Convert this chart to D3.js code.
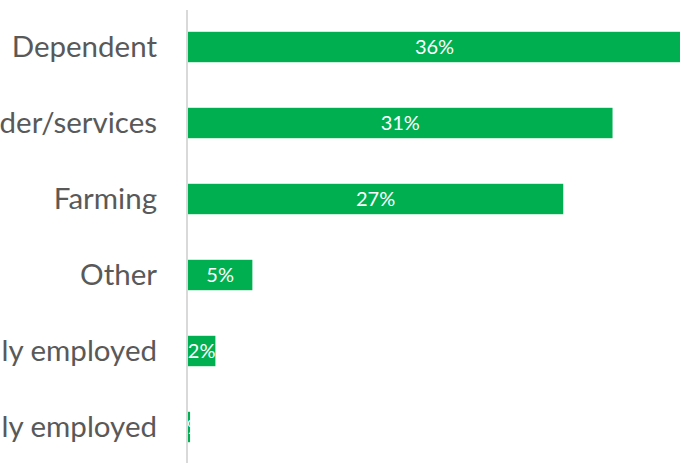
<!DOCTYPE html>
<html>
<head>
<meta charset="utf-8">
<script src="https://cdn.jsdelivr.net/npm/d3@7"></script>
<style>
  body { margin: 0; background: #fff; }
  svg { display: block; }
</style>
</head>
<body>
<div id="chart"></div>
<script>
// data (share of respondents, %)
var categories = ["Dependent", "Trader/services", "Farming", "Other", "Formally employed", "Informally employed"];
var shares = [36, 31, 27.4, 4.7, 2, 0.15];
var shareLabels = ["36%", "31%", "27%", "5%", "2%", "0%"];

var width = 680, height = 463,
    margin = {top: 32, right: 0, bottom: 21, left: 188};

var svg = d3.select("#chart").append("svg")
    .attr("width", width).attr("height", height);

var x = d3.scaleLinear().domain([0, 36]).range([margin.left, 681]);
var y = d3.scaleBand().domain(categories)
    .range([margin.top - 23, height - margin.bottom + 23])
    .paddingInner(0.6).paddingOuter(0.3);

// category labels (the left part is cut off by the frame, as in the original)
svg.selectAll(".catLabel").data(categories).enter().append("text")
    .attr("class", "catLabel")
    .attr("x", 157)
    .attr("y", d => y(d) + y.bandwidth() / 2)
    .attr("dy", "0.35em")
    .attr("text-anchor", "end")
    .style("font-family", "Lato, 'Open Sans', sans-serif")
    .style("font-size", "29.5px")
    .style("fill", "#595959")
    .text(d => d);

// bars
svg.selectAll(".bar").data(shares).enter().append("rect")
    .attr("class", "bar")
    .attr("x", x(0))
    .attr("y", (d, i) => y(categories[i]))
    .attr("width", d => x(d) - x(0))
    .attr("height", y.bandwidth())
    .attr("fill", "#00b050");

// value labels, white, centred in the bar
svg.selectAll(".valLabel").data(shares).enter().append("text")
    .attr("class", "valLabel")
    .attr("x", d => (x(d) + x(0)) / 2)
    .attr("y", (d, i) => y(categories[i]) + y.bandwidth() / 2)
    .attr("dy", "0.35em")
    .attr("text-anchor", "middle")
    .style("font-family", "Lato, 'Open Sans', sans-serif")
    .style("font-size", "20px")
    .style("fill", "#fff")
    .text((d, i) => shareLabels[i]);

// vertical category axis line
svg.append("line")
    .attr("x1", x(0) - 1).attr("x2", x(0) - 1)
    .attr("y1", 10).attr("y2", height)
    .attr("stroke", "#d9d9d9")
    .attr("stroke-width", 2);
</script>
</body>
</html>
